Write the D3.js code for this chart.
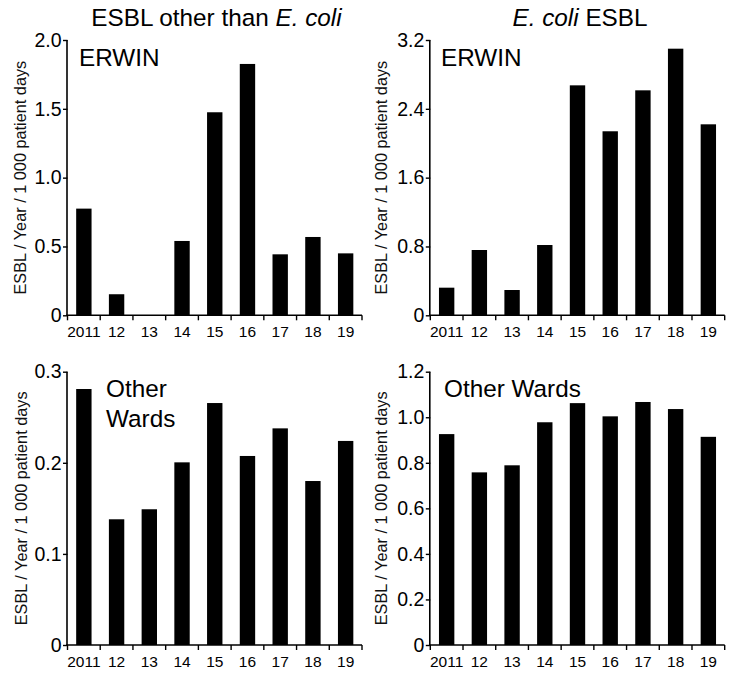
<!DOCTYPE html>
<html>
<head>
<meta charset="utf-8">
<script src="https://cdn.jsdelivr.net/npm/d3@7"></script>
<style>
  html, body { margin: 0; padding: 0; background: #fff; }
  svg { display: block; font-family: "Liberation Sans", Arial, sans-serif; }
</style>
</head>
<body>
<svg id="chart" width="742" height="679"></svg>
<script>
// ---- data ----
const years = ["2011", "12", "13", "14", "15", "16", "17", "18", "19"];
const erwinOther = [0.775, 0.153, 0, 0.54, 1.475, 1.826, 0.443, 0.569, 0.45];
const erwinEcoli = [0.321, 0.759, 0.294, 0.817, 2.673, 2.139, 2.615, 3.099, 2.22];
const wardsOther = [0.281, 0.138, 0.149, 0.2005, 0.2656, 0.2075, 0.2378, 0.180, 0.224];
const wardsEcoli = [0.926, 0.758, 0.789, 0.978, 1.062, 1.004, 1.067, 1.036, 0.914];

const ticksErwinOther = [0, 0.5, 1.0, 1.5, 2.0];
const ticksErwinEcoli = [0, 0.8, 1.6, 2.4, 3.2];
const ticksWardsOther = [0, 0.1, 0.2, 0.3];
const ticksWardsEcoli = [0, 0.2, 0.4, 0.6, 0.8, 1.0, 1.2];

const yTitle = "ESBL / Year / 1 000 patient days";

const svg = d3.select("#chart");
const fmt = v => v === 0 ? "0" : d3.format(".1f")(v);
const FONT = "Liberation Sans, Arial, sans-serif";

const panels = [
  { values: erwinOther, ticks: ticksErwinOther, x0: 67.5, x1: 362, yTop: 40, yBot: 315.3,
    labelX: 25.5, label: ["ERWIN"], lx: 79, ly: [66] },
  { values: erwinEcoli, ticks: ticksErwinEcoli, x0: 430.3, x1: 724.7, yTop: 40, yBot: 315.3,
    labelX: 387, label: ["ERWIN"], lx: 441, ly: [66] },
  { values: wardsOther, ticks: ticksWardsOther, x0: 67.5, x1: 362, yTop: 371.7, yBot: 645,
    labelX: 27, label: ["Other", "Wards"], lx: 106, ly: [397.3, 426.7] },
  { values: wardsEcoli, ticks: ticksWardsEcoli, x0: 430.3, x1: 724.7, yTop: 371.7, yBot: 645,
    labelX: 387, label: ["Other Wards"], lx: 444, ly: [397.3] }
];

panels.forEach(p => {
  const g = svg.append("g");
  const x = d3.scaleBand().domain(years).range([p.x0, p.x1]).paddingInner(0).paddingOuter(0);
  const y = d3.scaleLinear().domain([0, d3.max(p.ticks)]).range([p.yBot, p.yTop]);
  const bw = x.bandwidth() * 0.47;

  // bars
  g.selectAll("rect.bar").data(p.values).enter().append("rect")
    .attr("class", "bar")
    .attr("x", (d, i) => x(years[i]) + (x.bandwidth() - bw) / 2)
    .attr("width", bw)
    .attr("y", d => y(d))
    .attr("height", d => y(0) - y(d))
    .attr("fill", "#000");

  // y axis
  const ya = g.append("g").attr("transform", `translate(${p.x0},0)`)
    .call(d3.axisLeft(y).tickValues(p.ticks).tickFormat(fmt).tickSize(4.5).tickPadding(1.5));
  ya.select(".domain").attr("stroke", "#000").attr("stroke-width", 1.6).attr("d", `M-0.5,${p.yTop}V${p.yBot}`);
  ya.selectAll(".tick line").attr("stroke", "#000").attr("stroke-width", 1.4);
  ya.selectAll(".tick text").attr("font-size", 19.5).attr("fill", "#000").attr("font-family", FONT);

  // x axis (labels centered on bands)
  const xa = g.append("g").attr("transform", `translate(0,${p.yBot})`)
    .call(d3.axisBottom(x).tickSize(0).tickPadding(0));
  xa.select(".domain").attr("stroke", "#000").attr("stroke-width", 1.6).attr("d", `M${p.x0 - 1.3},0H${p.x1}`);
  xa.selectAll(".tick text").attr("font-size", 15.5).attr("fill", "#000")
    .attr("y", 21.5).attr("dy", 0).attr("font-family", FONT);
  // boundary ticks between categories
  const bounds = years.map(c => x(c)).concat([x.range()[1]]);
  xa.selectAll("line.bound").data(bounds).enter().append("line")
    .attr("class", "bound")
    .attr("x1", d => d).attr("x2", d => d)
    .attr("y1", 0).attr("y2", 5)
    .attr("stroke", "#000").attr("stroke-width", 1.4);

  // y axis title
  svg.append("text")
    .attr("transform", `translate(${p.labelX},${(p.yTop + p.yBot) / 2}) rotate(-90)`)
    .attr("text-anchor", "middle")
    .attr("font-size", 16.3)
    .attr("fill", "#111")
    .text(yTitle);

  // panel label
  p.label.forEach((t, i) => {
    svg.append("text")
      .attr("x", p.lx).attr("y", p.ly[i])
      .attr("font-size", 24.3)
      .attr("fill", "#000")
      .text(t);
  });
});

// column titles
const t1 = svg.append("text").attr("x", 216.5).attr("y", 25.5).attr("text-anchor", "middle")
  .attr("font-size", 24.3).attr("fill", "#000");
t1.append("tspan").text("ESBL other than ");
t1.append("tspan").attr("font-style", "italic").text("E. coli");

const t2 = svg.append("text").attr("x", 580).attr("y", 26).attr("text-anchor", "middle")
  .attr("font-size", 24.3).attr("fill", "#000");
t2.append("tspan").attr("font-style", "italic").text("E. coli");
t2.append("tspan").text(" ESBL");
</script>
</body>
</html>
